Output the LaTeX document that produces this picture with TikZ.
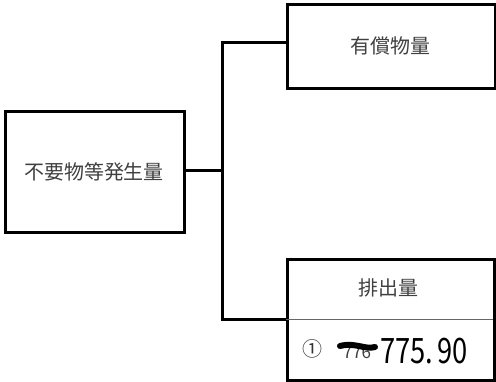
\documentclass[tikz,border=0pt]{standalone}
\usepackage{fontspec}
\setmainfont{Noto Sans CJK JP}
\begin{document}
\begin{tikzpicture}[x=1pt,y=-1pt,
  box/.style={draw=black,line width=2.6pt,inner sep=0pt},
  conn/.style={draw=black,line width=3pt},
  lbl/.style={font=\fontsize{20}{20}\selectfont,text=black!75}]
\useasboundingbox[fill=white] (0,0) rectangle (496,382);
% boxes
\node[box,minimum width=179pt,minimum height=121pt,anchor=north west] (src) at (4,110) {};
\node[lbl] (srct) at (94,172) {不要物等発生量};
\node[box,minimum width=208pt,minimum height=84pt,anchor=north west] (val) at (286,3) {};
\node[lbl] (valt) at (390,46) {有償物量};
\node[box,minimum width=207pt,minimum height=121pt,anchor=north west] (dis) at (286,258) {};
\coordinate (divL) at (286,319);
\coordinate (divR) at (493,319);
\draw[black!60,line width=0.8pt] (divL) -- (divR);
\node[lbl] (dist) at (388,288) {排出量};
% connectors
\coordinate (jn) at (222,171);
\coordinate (jt) at (222,43);
\coordinate (jb) at (222,320);
\draw[conn] (src.east |- jn) -- (jn);
\draw[conn,line cap=rect] (jt) -- (jb);
\draw[conn] (jt) -- (val.west |- jt);
\draw[conn] (jb) -- (dis.west |- jb);
% value row
\node[font=\fontsize{20}{20}\selectfont,text=black!80] (num) at (312,349) {①};
\node[font=\fontsize{17}{17}\selectfont,text=black!75] (old) at (357,352) {776};
\draw[black,line width=6pt,line cap=round] (340,346) .. controls (355,342) and (365,350) .. (375,347);
\node[font=\fontsize{35}{35}\selectfont,anchor=west,inner sep=0pt] (new) at (380,351) {\scalebox{0.78}[1]{775.\,90}};
\end{tikzpicture}
\end{document}
